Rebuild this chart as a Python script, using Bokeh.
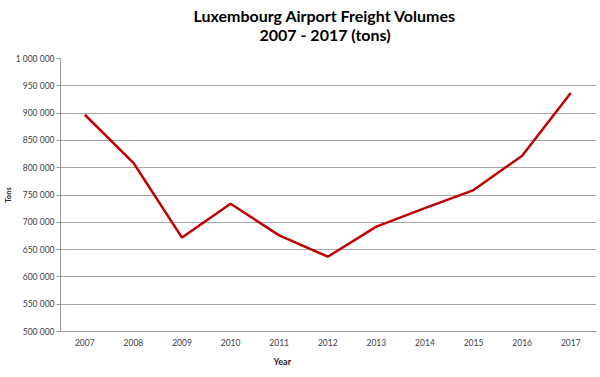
from bokeh.plotting import figure
from bokeh.models import Range1d, FixedTicker, Title
from bokeh.embed import file_html
from bokeh.resources import INLINE

years = [2007, 2008, 2009, 2010, 2011, 2012, 2013, 2014, 2015, 2016, 2017]
tons = [897000, 809000, 672000, 734000, 676000, 637000, 692000, 726000, 759000, 822000, 937000]
y_ticks = [500000, 550000, 600000, 650000, 700000, 750000, 800000, 850000, 900000, 950000, 1000000]
y_tick_labels = {t: f"{t:,}".replace(",", " ") for t in y_ticks}
x_tick_labels = {y: str(y) for y in years}
title_lines = ["Luxembourg Airport Freight Volumes", "2007 - 2017 (tons)"]
x_title = "Year"
y_title = "Tons"

p = figure(width=598, height=376, output_backend="svg", toolbar_location=None,
           x_range=Range1d(years[0] - 0.5, years[-1] + 0.53),
           y_range=Range1d(y_ticks[0], y_ticks[-1]),
           min_border_left=60, min_border_right=2, min_border_top=58, min_border_bottom=45)
p.outline_line_color = None
p.xgrid.grid_line_color = None
p.ygrid.grid_line_color = "#a6a6a6"
p.ygrid.grid_line_width = 1

p.yaxis.ticker = FixedTicker(ticks=y_ticks)
p.yaxis.major_label_overrides = y_tick_labels
p.yaxis.axis_line_color = "#9a9a9a"
p.yaxis.major_tick_line_color = "#9a9a9a"
p.yaxis.major_tick_out = 4
p.yaxis.major_tick_in = 0
p.yaxis.minor_tick_line_color = None
p.yaxis.minor_tick_out = 0
p.yaxis.major_label_standoff = 2
p.yaxis.axis_label = y_title
p.yaxis.axis_label_standoff = 0
p.yaxis.axis_label_text_font = "Lato"
p.yaxis.axis_label_text_font_style = "bold"
p.yaxis.axis_label_text_font_size = "7.5px"
p.yaxis.axis_label_text_color = "#262626"

p.xaxis.ticker = FixedTicker(ticks=years)
p.xaxis.major_label_overrides = x_tick_labels
p.xaxis.axis_line_color = "#9a9a9a"
p.xaxis.major_tick_line_color = None
p.xaxis.major_tick_out = 0
p.xaxis.major_tick_in = 0
p.xaxis.minor_tick_line_color = None
p.xaxis.minor_tick_out = 0
p.xaxis.major_label_standoff = 7

for ax in (p.xaxis, p.yaxis):
    ax.major_label_text_font = "Lato"
    ax.major_label_text_font_size = "8.5px"
    ax.major_label_text_color = "#404040"

p.line(years, tons, line_color="#c00000", line_width=2.5)

# titles: first added sits closest to the frame
p.add_layout(Title(text=title_lines[1], align="left", offset=199, standoff=30,
                   vertical_align="bottom",
                   text_font="Lato", text_font_style="bold", text_font_size="16px",
                   text_color="#000000"), "above")
p.add_layout(Title(text=title_lines[0], align="left", offset=133, standoff=-35,
                   vertical_align="bottom",
                   text_font="Lato", text_font_style="bold", text_font_size="16px",
                   text_color="#000000"), "above")
p.add_layout(Title(text=x_title, align="left", offset=213, standoff=10,
                   text_font="Lato", text_font_style="bold", text_font_size="9px",
                   text_color="#262626"), "below")

open("out.html", "w").write(file_html(p, INLINE))
